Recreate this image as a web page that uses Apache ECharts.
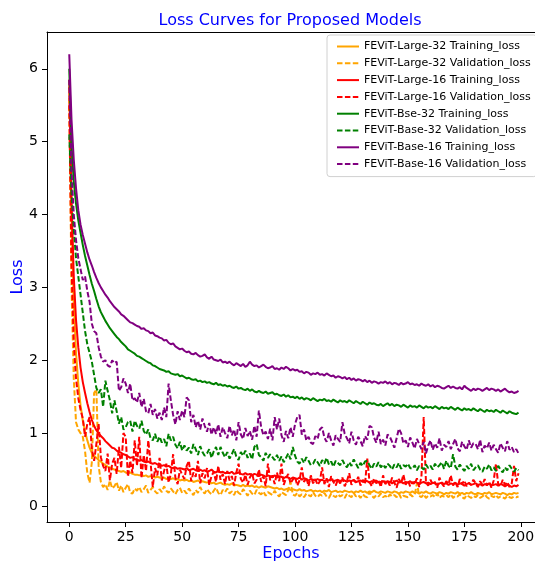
<!DOCTYPE html>
<html>
<head>
<meta charset="utf-8">
<script src="https://cdn.jsdelivr.net/npm/echarts@6/dist/echarts.min.js"></script>
<style>
  html, body { margin: 0; padding: 0; background: #fff; }
  #main { width: 535px; height: 562px; }
</style>
</head>
<body>
<div id="main"></div>
<script>
// loss values per epoch
var large32Train = [
  5.75, 4.00, 2.80, 2.10, 1.68, 1.38, 1.17, 1.02, 0.90, 0.80,
  0.73, 0.69, 0.66, 0.63, 0.61, 0.58, 0.56, 0.54, 0.53, 0.51,
  0.50, 0.49, 0.48, 0.47, 0.48, 0.46, 0.45, 0.46, 0.44, 0.43,
  0.43, 0.42, 0.43, 0.41, 0.42, 0.40, 0.41, 0.40, 0.39, 0.40,
  0.39, 0.38, 0.39, 0.37, 0.38, 0.37, 0.38, 0.36, 0.37, 0.35,
  0.36, 0.35, 0.36, 0.34, 0.35, 0.33, 0.34, 0.35, 0.33, 0.34,
  0.33, 0.32, 0.33, 0.31, 0.32, 0.30, 0.31, 0.32, 0.30, 0.29,
  0.30, 0.29, 0.31, 0.28, 0.29, 0.28, 0.27, 0.29, 0.27, 0.28,
  0.27, 0.28, 0.26, 0.27, 0.25, 0.27, 0.26, 0.25, 0.27, 0.26,
  0.25, 0.24, 0.25, 0.23, 0.24, 0.22, 0.23, 0.24, 0.22, 0.23,
  0.22, 0.21, 0.23, 0.21, 0.22, 0.20, 0.21, 0.22, 0.20, 0.21,
  0.20, 0.21, 0.19, 0.21, 0.20, 0.22, 0.19, 0.20, 0.21, 0.19,
  0.20, 0.19, 0.21, 0.20, 0.19, 0.20, 0.18, 0.20, 0.19, 0.21,
  0.19, 0.20, 0.18, 0.20, 0.19, 0.21, 0.19, 0.18, 0.20, 0.19,
  0.18, 0.20, 0.19, 0.18, 0.20, 0.19, 0.17, 0.19, 0.18, 0.20,
  0.19, 0.18, 0.20, 0.18, 0.19, 0.17, 0.19, 0.18, 0.20, 0.18,
  0.17, 0.19, 0.18, 0.17, 0.19, 0.18, 0.16, 0.18, 0.17, 0.19,
  0.18, 0.17, 0.19, 0.17, 0.18, 0.16, 0.18, 0.17, 0.19, 0.17,
  0.16, 0.18, 0.17, 0.16, 0.18, 0.17, 0.19, 0.16, 0.17, 0.18,
  0.17, 0.16, 0.18, 0.17, 0.15, 0.17, 0.16, 0.18, 0.17, 0.18
];
var large32Val = [
  5.60, 3.00, 1.75, 1.15, 1.05, 1.00, 0.95, 0.75, 0.45, 0.32,
  0.60, 1.55, 1.60, 0.55, 0.33, 0.26, 0.30, 0.22, 0.35, 0.24,
  0.27, 0.33, 0.21, 0.28, 0.19, 0.25, 0.30, 0.18, 0.17, 0.24,
  0.21, 0.26, 0.19, 0.23, 0.28, 0.18, 0.22, 0.26, 0.20, 0.17,
  0.23, 0.19, 0.27, 0.21, 0.18, 0.24, 0.20, 0.16, 0.22, 0.25,
  0.18, 0.21, 0.17, 0.24, 0.19, 0.15, 0.22, 0.18, 0.26, 0.20,
  0.17, 0.23, 0.19, 0.16, 0.21, 0.25, 0.18, 0.15, 0.22, 0.19,
  0.24, 0.17, 0.20, 0.15, 0.22, 0.18, 0.16, 0.23, 0.19, 0.14,
  0.21, 0.17, 0.15, 0.22, 0.18, 0.16, 0.20, 0.14, 0.19, 0.17,
  0.15, 0.21, 0.16, 0.13, 0.19, 0.17, 0.15, 0.22, 0.33, 0.16,
  0.14, 0.18, 0.13, 0.16, 0.12, 0.17, 0.15, 0.13, 0.19, 0.14,
  0.12, 0.16, 0.14, 0.18, 0.13, 0.11, 0.17, 0.14, 0.12, 0.16,
  0.13, 0.15, 0.11, 0.17, 0.14, 0.12, 0.18, 0.13, 0.15, 0.11,
  0.16, 0.13, 0.12, 0.19, 0.14, 0.11, 0.15, 0.13, 0.17, 0.12,
  0.14, 0.11, 0.16, 0.13, 0.15, 0.12, 0.17, 0.11, 0.14, 0.13,
  0.12, 0.16, 0.13, 0.15, 0.31, 0.14, 0.12, 0.16, 0.11, 0.14,
  0.13, 0.15, 0.12, 0.17, 0.11, 0.14, 0.13, 0.15, 0.12, 0.16,
  0.11, 0.14, 0.13, 0.16, 0.12, 0.10, 0.15, 0.13, 0.11, 0.14,
  0.12, 0.15, 0.11, 0.13, 0.16, 0.12, 0.10, 0.14, 0.12, 0.15,
  0.11, 0.13, 0.12, 0.10, 0.14, 0.12, 0.11, 0.13, 0.12, 0.13
];
var large16Train = [
  5.85, 4.20, 3.15, 2.55, 2.18, 1.90, 1.70, 1.55, 1.41, 1.29,
  1.18, 1.10, 1.04, 1.00, 0.96, 0.93, 0.89, 0.86, 0.83, 0.80,
  0.79, 0.76, 0.74, 0.73, 0.71, 0.70, 0.68, 0.66, 0.67, 0.64,
  0.64, 0.62, 0.63, 0.61, 0.60, 0.61, 0.59, 0.58, 0.59, 0.57,
  0.57, 0.55, 0.56, 0.54, 0.55, 0.53, 0.52, 0.53, 0.51, 0.52,
  0.51, 0.50, 0.52, 0.49, 0.50, 0.51, 0.49, 0.48, 0.50, 0.48,
  0.49, 0.47, 0.48, 0.50, 0.47, 0.46, 0.48, 0.46, 0.47, 0.45,
  0.46, 0.45, 0.47, 0.44, 0.45, 0.46, 0.44, 0.43, 0.45, 0.43,
  0.44, 0.42, 0.44, 0.43, 0.41, 0.43, 0.42, 0.40, 0.42, 0.41,
  0.40, 0.42, 0.39, 0.41, 0.40, 0.38, 0.40, 0.39, 0.37, 0.39,
  0.38, 0.37, 0.39, 0.36, 0.38, 0.37, 0.35, 0.37, 0.36, 0.35,
  0.37, 0.35, 0.36, 0.34, 0.36, 0.35, 0.37, 0.34, 0.35, 0.36,
  0.34, 0.36, 0.35, 0.33, 0.35, 0.34, 0.36, 0.33, 0.34, 0.35,
  0.33, 0.35, 0.34, 0.32, 0.34, 0.33, 0.35, 0.32, 0.33, 0.34,
  0.32, 0.34, 0.33, 0.31, 0.33, 0.35, 0.32, 0.33, 0.31, 0.33,
  0.32, 0.34, 0.31, 0.33, 0.32, 0.30, 0.32, 0.33, 0.31, 0.32,
  0.30, 0.32, 0.31, 0.29, 0.31, 0.32, 0.30, 0.31, 0.29, 0.31,
  0.30, 0.32, 0.29, 0.31, 0.30, 0.28, 0.30, 0.31, 0.29, 0.30,
  0.31, 0.29, 0.30, 0.28, 0.30, 0.29, 0.31, 0.28, 0.29, 0.30,
  0.28, 0.30, 0.29, 0.27, 0.29, 0.28, 0.26, 0.28, 0.27, 0.29
];
var large16Val = [
  5.50, 3.30, 2.25, 1.75, 1.48, 1.32, 1.20, 0.95, 1.13, 1.22,
  0.78, 0.62, 0.85, 1.13, 0.67, 0.55, 0.48, 0.72, 0.35, 0.58,
  0.66, 0.44, 0.81, 0.52, 1.00, 0.95, 0.40, 0.62, 0.45, 0.90,
  0.55, 0.95, 0.38, 0.70, 0.48, 0.90, 0.60, 0.26, 0.52, 0.42,
  0.66, 0.35, 0.48, 0.58, 0.32, 0.44, 0.71, 0.39, 0.30, 0.50,
  0.43, 0.37, 0.55, 0.62, 0.34, 0.46, 0.40, 0.62, 0.31, 0.45,
  0.38, 0.52, 0.29, 0.41, 0.47, 0.33, 0.55, 0.36, 0.44, 0.30,
  0.48, 0.35, 0.41, 0.28, 0.46, 0.58, 0.37, 0.32, 0.43, 0.29,
  0.39, 0.45, 0.31, 0.36, 0.50, 0.33, 0.41, 0.27, 0.58, 0.35,
  0.42, 0.30, 0.46, 0.34, 0.58, 0.29, 0.38, 0.44, 0.31, 0.36,
  0.40, 0.28, 0.35, 0.53, 0.33, 0.39, 0.27, 0.42, 0.31, 0.37,
  0.29, 0.34, 0.53, 0.30, 0.38, 0.26, 0.41, 0.33, 0.28, 0.36,
  0.31, 0.39, 0.27, 0.34, 0.45, 0.29, 0.35, 0.32, 0.40, 0.28,
  0.36, 0.30, 0.65, 0.33, 0.27, 0.38, 0.31, 0.35, 0.26, 0.42,
  0.30, 0.34, 0.28, 0.39, 0.32, 0.25, 0.37, 0.31, 0.43, 0.29,
  0.35, 0.27, 0.33, 0.30, 0.38, 0.26, 0.40, 1.22, 0.32, 0.28,
  0.36, 0.29, 0.33, 0.25, 0.39, 0.31, 0.27, 0.34, 0.30, 0.42,
  0.28, 0.33, 0.26, 0.37, 0.30, 0.35, 0.27, 0.32, 0.29, 0.36,
  0.31, 0.26, 0.34, 0.29, 0.37, 0.28, 0.33, 0.25, 0.35, 0.58,
  0.30, 0.27, 0.36, 0.29, 0.33, 0.26, 0.31, 0.55, 0.34, 0.45
];
var base32Train = [
  6.00, 4.95, 4.45, 4.15, 3.92, 3.75, 3.58, 3.43, 3.30, 3.17,
  3.05, 2.95, 2.84, 2.74, 2.66, 2.60, 2.54, 2.49, 2.44, 2.40,
  2.36, 2.32, 2.29, 2.25, 2.22, 2.19, 2.15, 2.13, 2.11, 2.09,
  2.06, 2.05, 2.03, 2.01, 1.99, 1.97, 1.96, 1.93, 1.92, 1.90,
  1.88, 1.87, 1.86, 1.84, 1.85, 1.82, 1.81, 1.80, 1.81, 1.78,
  1.79, 1.77, 1.75, 1.76, 1.74, 1.73, 1.74, 1.71, 1.72, 1.70,
  1.71, 1.69, 1.70, 1.68, 1.67, 1.69, 1.66, 1.67, 1.65, 1.66,
  1.64, 1.65, 1.63, 1.62, 1.64, 1.61, 1.62, 1.60, 1.59, 1.61,
  1.58, 1.60, 1.57, 1.56, 1.58, 1.56, 1.55, 1.57, 1.54, 1.55,
  1.56, 1.53, 1.54, 1.52, 1.51, 1.53, 1.50, 1.52, 1.49, 1.50,
  1.48, 1.50, 1.47, 1.49, 1.46, 1.48, 1.47, 1.45, 1.48, 1.46,
  1.44, 1.46, 1.45, 1.47, 1.44, 1.45, 1.43, 1.46, 1.44, 1.42,
  1.45, 1.43, 1.44, 1.42, 1.45, 1.43, 1.41, 1.44, 1.42, 1.40,
  1.43, 1.41, 1.39, 1.42, 1.40, 1.41, 1.39, 1.38, 1.40, 1.37,
  1.39, 1.41, 1.38, 1.40, 1.37, 1.39, 1.38, 1.36, 1.39, 1.37,
  1.35, 1.38, 1.36, 1.37, 1.35, 1.38, 1.36, 1.34, 1.37, 1.35,
  1.36, 1.34, 1.37, 1.35, 1.33, 1.36, 1.34, 1.35, 1.33, 1.36,
  1.34, 1.32, 1.35, 1.33, 1.31, 1.34, 1.32, 1.33, 1.31, 1.34,
  1.32, 1.30, 1.33, 1.31, 1.29, 1.32, 1.30, 1.31, 1.29, 1.32,
  1.30, 1.28, 1.31, 1.29, 1.27, 1.30, 1.28, 1.27, 1.26, 1.28
];
var base32Val = [
  5.10, 4.30, 3.80, 3.40, 3.15, 2.90, 2.65, 2.40, 2.22, 2.10,
  1.98, 1.80, 1.62, 1.55, 1.60, 1.36, 1.72, 1.58, 1.45, 1.27,
  1.45, 1.30, 1.13, 1.22, 1.05, 1.08, 1.15, 1.17, 1.02, 1.17,
  1.10, 1.06, 1.17, 1.03, 0.98, 1.05, 0.93, 0.90, 0.99, 0.88,
  0.95, 0.87, 0.92, 0.82, 0.99, 0.90, 0.95, 0.84, 0.79, 0.88,
  0.76, 0.83, 0.76, 0.80, 0.72, 0.85, 0.78, 0.70, 0.82, 0.74,
  0.69, 0.72, 0.78, 0.66, 0.75, 0.81, 0.70, 0.81, 0.73, 0.67,
  0.74, 0.65, 0.71, 0.78, 0.68, 0.63, 0.74, 0.69, 0.76, 0.66,
  0.72, 0.64, 0.81, 0.85, 0.70, 0.67, 0.62, 0.73, 0.66, 0.71,
  0.67, 0.63, 0.70, 0.62, 0.68, 0.60, 0.66, 0.72, 0.64, 0.81,
  0.69, 0.61, 0.58, 0.65, 0.59, 0.67, 0.62, 0.56, 0.58, 0.64,
  0.60, 0.55, 0.63, 0.58, 0.66, 0.57, 0.61, 0.54, 0.62, 0.59,
  0.56, 0.63, 0.57, 0.53, 0.60, 0.55, 0.64, 0.58, 0.52, 0.59,
  0.55, 0.61, 0.62, 0.56, 0.51, 0.58, 0.54, 0.60, 0.53, 0.57,
  0.52, 0.58, 0.55, 0.50, 0.57, 0.53, 0.59, 0.51, 0.56, 0.54,
  0.58, 0.52, 0.51, 0.56, 0.49, 0.55, 0.53, 0.50, 0.57, 0.52,
  0.55, 0.50, 0.58, 0.53, 0.56, 0.60, 0.51, 0.62, 0.55, 0.52,
  0.71, 0.54, 0.50, 0.57, 0.52, 0.48, 0.55, 0.51, 0.58, 0.49,
  0.53, 0.56, 0.50, 0.47, 0.54, 0.51, 0.57, 0.49, 0.53, 0.48,
  0.55, 0.50, 0.46, 0.53, 0.49, 0.56, 0.51, 0.47, 0.52, 0.49
];
var base16Train = [
  6.20, 5.30, 4.75, 4.36, 4.06, 3.86, 3.72, 3.60, 3.48, 3.38,
  3.30, 3.21, 3.13, 3.06, 3.00, 2.95, 2.90, 2.86, 2.81, 2.77,
  2.73, 2.70, 2.67, 2.63, 2.61, 2.58, 2.55, 2.52, 2.51, 2.49,
  2.47, 2.46, 2.43, 2.44, 2.41, 2.40, 2.37, 2.38, 2.34, 2.33,
  2.31, 2.30, 2.27, 2.28, 2.24, 2.22, 2.23, 2.19, 2.17, 2.15,
  2.16, 2.13, 2.11, 2.12, 2.09, 2.08, 2.10, 2.07, 2.05, 2.06,
  2.08, 2.04, 2.02, 2.05, 2.01, 2.00, 1.99, 2.01, 1.97, 1.98,
  1.96, 1.98, 1.95, 1.93, 1.96, 1.94, 1.92, 1.95, 1.91, 1.93,
  1.98, 1.94, 1.92, 1.93, 1.90, 1.92, 1.94, 1.91, 1.89, 1.90,
  1.92, 1.88, 1.89, 1.87, 1.90, 1.88, 1.91, 1.89, 1.86, 1.88,
  1.86, 1.87, 1.84, 1.85, 1.82, 1.84, 1.83, 1.80, 1.82, 1.81,
  1.83, 1.80, 1.81, 1.79, 1.82, 1.80, 1.78, 1.79, 1.76, 1.78,
  1.77, 1.75, 1.77, 1.74, 1.76, 1.73, 1.75, 1.72, 1.74, 1.73,
  1.71, 1.73, 1.70, 1.72, 1.69, 1.71, 1.70, 1.68, 1.70, 1.69,
  1.71, 1.68, 1.70, 1.67, 1.69, 1.68, 1.66, 1.69, 1.67, 1.68,
  1.70, 1.67, 1.68, 1.66, 1.67, 1.65, 1.68, 1.66, 1.65, 1.67,
  1.64, 1.66, 1.63, 1.65, 1.64, 1.62, 1.61, 1.63, 1.65, 1.62,
  1.64, 1.62, 1.61, 1.63, 1.60, 1.65, 1.62, 1.60, 1.58, 1.61,
  1.59, 1.61, 1.60, 1.58, 1.60, 1.62, 1.59, 1.61, 1.60, 1.58,
  1.60, 1.57, 1.59, 1.61, 1.58, 1.56, 1.57, 1.55, 1.56, 1.58
];
var base16Val = [
  5.85, 4.60, 4.00, 3.65, 3.40, 3.25, 3.10, 3.15, 2.95, 2.80,
  2.50, 2.40, 2.37, 2.18, 2.05, 1.98, 2.00, 1.93, 1.91, 2.00,
  1.96, 1.98, 1.58, 1.63, 1.75, 1.68, 1.55, 1.68, 1.45, 1.48,
  1.42, 1.55, 1.36, 1.47, 1.30, 1.27, 1.40, 1.25, 1.33, 1.20,
  1.28, 1.18, 1.35, 1.22, 1.68, 1.45, 1.25, 1.12, 1.30, 1.18,
  1.31, 1.22, 1.49, 1.45, 1.15, 1.25, 1.08, 1.17, 1.05, 1.20,
  1.10, 1.02, 1.14, 0.98, 1.08, 0.99, 1.12, 0.95, 1.08, 1.00,
  0.93, 1.10, 0.97, 1.05, 0.90, 1.15, 0.98, 0.92, 1.07, 0.96,
  1.03, 0.91, 1.10, 0.95, 1.31, 1.08, 0.97, 1.02, 0.92, 1.06,
  0.90, 1.22, 1.05, 1.20, 0.97, 0.88, 1.03, 0.93, 1.08, 0.95,
  1.12, 1.22, 1.25, 0.98, 1.05, 0.90, 0.95, 0.87, 0.85, 0.96,
  0.92, 1.05, 1.08, 0.94, 0.88, 1.00, 0.90, 0.83, 0.97, 0.92,
  0.88, 1.15, 0.99, 0.93, 0.86, 1.02, 0.90, 0.84, 0.95, 0.89,
  0.82, 0.96, 0.91, 1.10, 1.08, 0.94, 0.87, 1.02, 0.85, 0.91,
  0.83, 0.98, 0.95, 0.88, 0.80, 0.93, 1.06, 1.00, 0.86, 0.90,
  0.81, 0.94, 0.87, 0.79, 0.92, 0.85, 0.78, 0.88, 0.72, 0.83,
  0.90, 0.77, 0.86, 0.80, 0.93, 0.76, 0.84, 0.81, 0.89, 0.78,
  0.85, 0.92, 0.79, 0.75, 0.88, 0.82, 0.77, 0.90, 0.80, 0.86,
  0.85, 0.78, 0.91, 0.74, 0.83, 0.79, 0.87, 0.76, 0.84, 0.78,
  0.73, 0.86, 0.80, 0.75, 0.89, 0.77, 0.81, 0.74, 0.78, 0.72
];

var seriesNames = [
  "FEViT-Large-32 Training_loss",
  "FEViT-Large-32 Validation_loss",
  "FEViT-Large-16 Training_loss",
  "FEViT-Large-16 Validation_loss",
  "FEViT-Bse-32 Training_loss",
  "FEViT-Base-32 Validation_loss",
  "FEViT-Base-16 Training_loss",
  "FEViT-Base-16 Validation_loss"
];
var seriesValues = [large32Train, large32Val, large16Train, large16Val,
                    base32Train, base32Val, base16Train, base16Val];
var seriesColors = ["#ffa500", "#ffa500", "#ff0000", "#ff0000",
                    "#008000", "#008000", "#800080", "#800080"];
var xTicks = [0, 25, 50, 75, 100, 125, 150, 175, 200];
var yTicks = [0, 1, 2, 3, 4, 5, 6];

var font = "DejaVu Sans";
var myChart = echarts.init(document.getElementById("main"));

var series = seriesValues.map(function (vals, k) {
  return {
    name: seriesNames[k],
    type: "line",
    symbol: "none",
    silent: true,
    data: vals.map(function (v, i) { return [i, v]; }),
    lineStyle: {
      color: seriesColors[k],
      width: 2,
      type: k % 2 === 1 ? [5.5, 2.4] : "solid"
    },
    itemStyle: { color: seriesColors[k] }
  };
});

var option = {
  animation: false,
  backgroundColor: "#fff",
  title: {
    text: "Loss Curves for Proposed Models",
    left: 285,
    textAlign: "center",
    top: 8,
    textStyle: { fontFamily: font, fontSize: 16, fontWeight: "normal", color: "#0000ff" }
  },
  grid: { left: 47, right: 0, top: 32, bottom: 40, containLabel: false, outerBoundsMode: "none" },
  legend: {
    orient: "vertical",
    left: 327,
    top: 35,
    width: 206,
    padding: [6, 6, 7, 9],
    itemWidth: 22,
    itemHeight: 11,
    itemGap: 5.8,
    itemStyle: { opacity: 0 },
    borderColor: "#d0d0d0",
    borderWidth: 1,
    borderRadius: 3,
    backgroundColor: "rgba(255,255,255,0.8)",
    textStyle: { fontFamily: font, fontSize: 11, color: "#000" },
    data: seriesNames
  },
  xAxis: [{
    type: "value",
    min: -9.86,
    max: 206.3,
    name: "Epochs",
    nameLocation: "middle",
    nameGap: 24,
    nameMoveOverlap: false,
    nameTextStyle: { fontFamily: font, fontSize: 16, color: "#0000ff" },
    axisLine: { show: true, onZero: false, lineStyle: { color: "#000", width: 1 } },
    axisTick: { show: true, length: 5, customValues: xTicks, lineStyle: { color: "#000" } },
    axisLabel: { customValues: xTicks, margin: 8, fontFamily: font, fontSize: 14, color: "#000" },
    splitLine: { show: false }
  }, {
    type: "value",
    position: "top",
    min: -9.86,
    max: 206.3,
    axisLine: { show: true, onZero: false, lineStyle: { color: "#000", width: 1 } },
    axisTick: { show: false },
    axisLabel: { show: false },
    splitLine: { show: false }
  }],
  yAxis: {
    type: "value",
    min: -0.22,
    max: 6.505,
    name: "Loss",
    nameLocation: "middle",
    nameGap: 21,
    nameMoveOverlap: false,
    nameTextStyle: { fontFamily: font, fontSize: 16, color: "#0000ff" },
    axisLine: { show: true, onZero: false, lineStyle: { color: "#000", width: 1 } },
    axisTick: { show: true, length: 5, customValues: yTicks, lineStyle: { color: "#000" } },
    axisLabel: { customValues: yTicks, margin: 9, fontFamily: font, fontSize: 14, color: "#000" },
    splitLine: { show: false }
  },
  series: series
};

myChart.setOption(option);
</script>
</body>
</html>
